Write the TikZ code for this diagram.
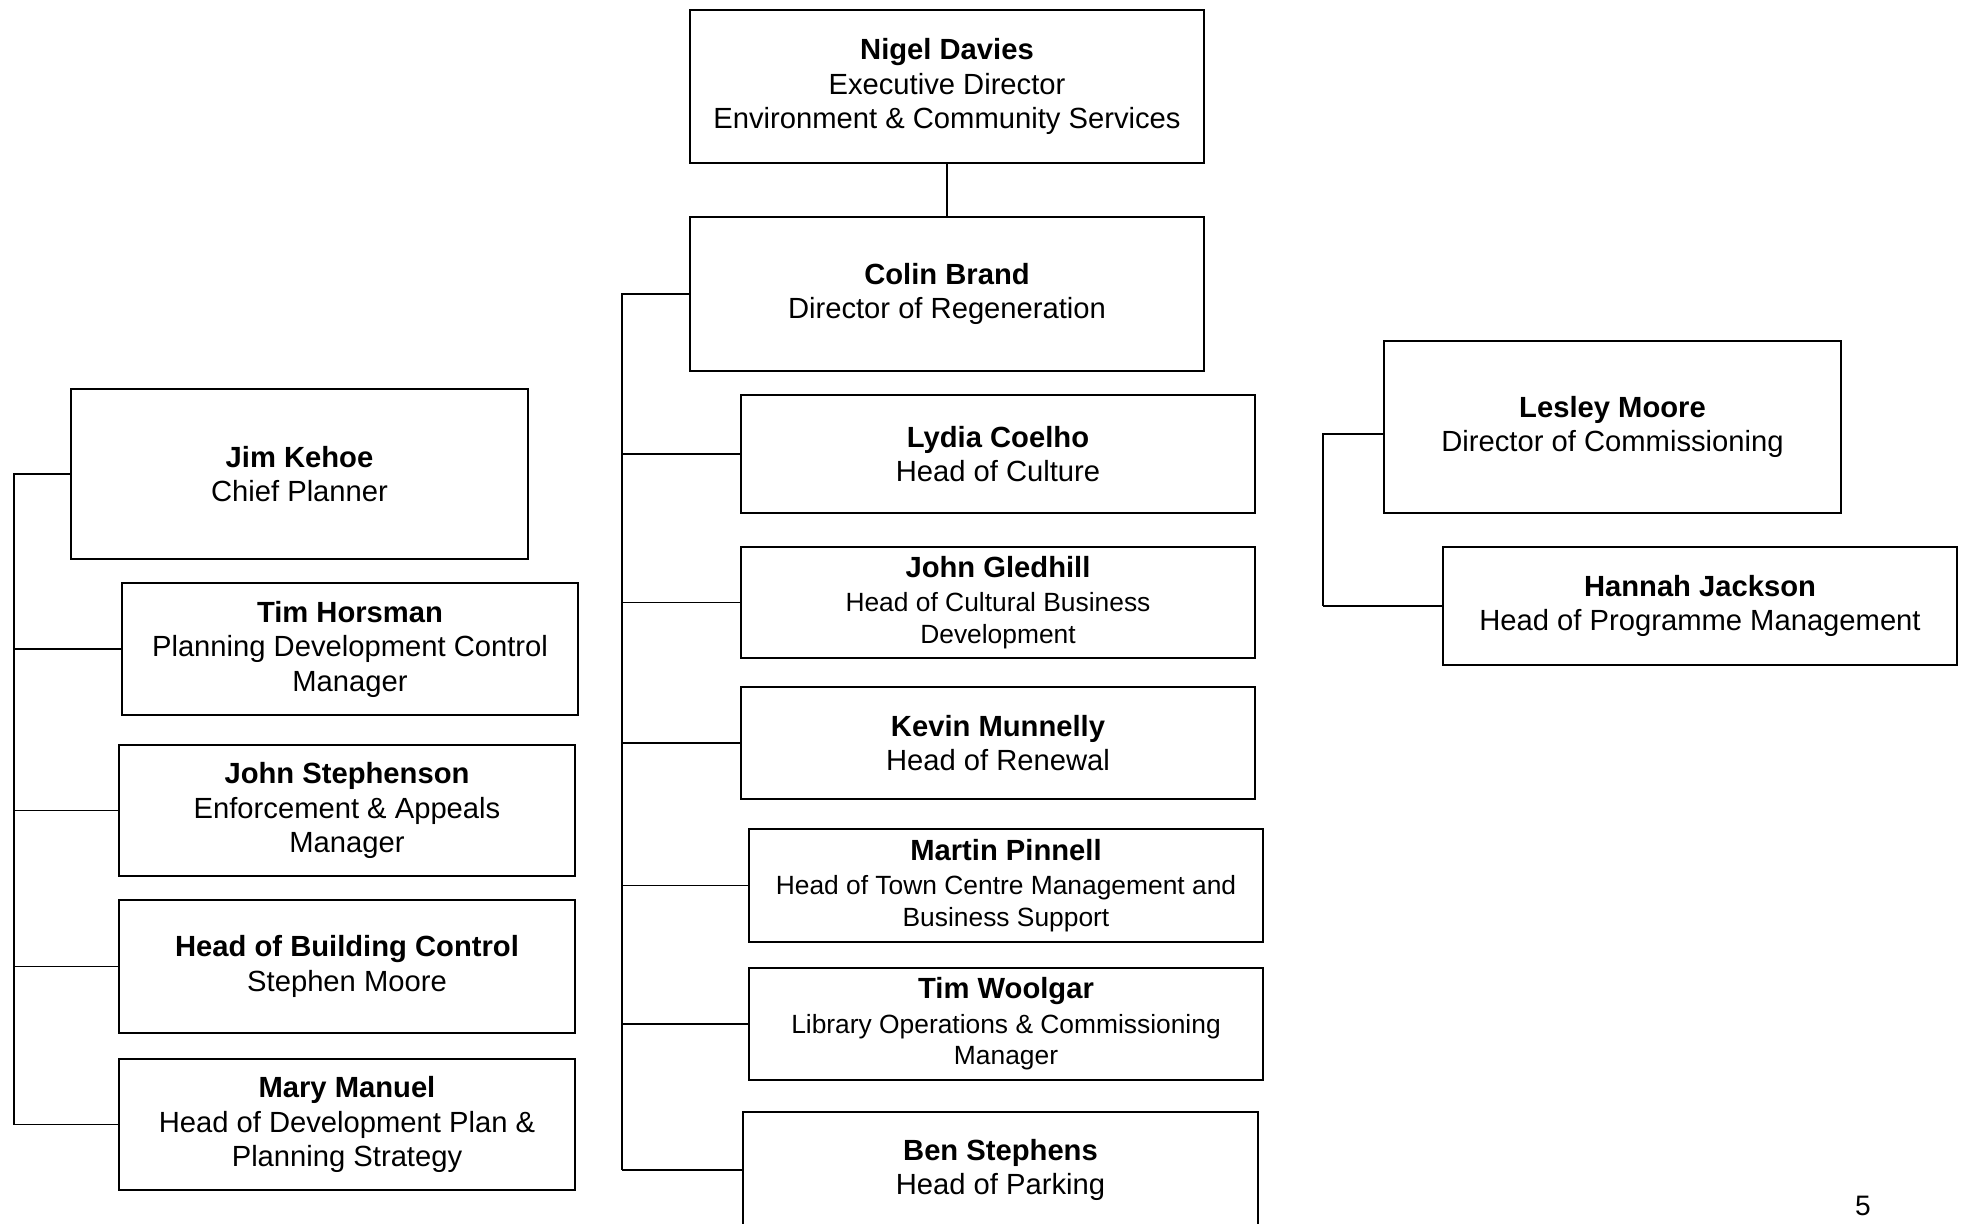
\documentclass[tikz,border=0pt]{standalone}
\usepackage{fontspec}
\setmainfont{Liberation Sans}
\newcommand{\smalltitle}{\fontsize{7.5}{9.8}\selectfont}
\tikzset{
  post/.style={draw, line width=0.7pt, inner sep=0pt, align=center,
    font=\fontsize{8.3}{9.8}\selectfont},
  link/.style={line width=0.5pt}
}
\begin{document}
\begin{tikzpicture}[x=0.01cm, y=-0.01cm]
\useasboundingbox (0, 0) rectangle (1966, 1223);
% Set the box widths
\def\widebox{5.14cm}
\def\narrowbox{4.56cm}

% Directors
\node[post, minimum width=\widebox, minimum height=1.53cm] (davies) at (947, 86.5) {\textbf{Nigel Davies}\\Executive Director\\Environment \& Community Services};
\node[post, minimum width=\widebox, minimum height=1.54cm] (brand) at (947, 294) {\textbf{Colin Brand}\\Director of Regeneration};
\node[post, minimum width=4.57cm, minimum height=1.72cm] (moore) at (1612.5, 427) {\textbf{Lesley Moore}\\Director of Commissioning};
\node[post, minimum width=\widebox, minimum height=1.18cm] (jackson) at (1700, 606) {\textbf{Hannah Jackson}\\Head of Programme Management};

% Planning column
\node[post, minimum width=4.57cm, minimum height=1.70cm] (kehoe) at (299.5, 474) {\textbf{Jim Kehoe}\\Chief Planner};
\node[post, minimum width=\narrowbox, minimum height=1.32cm] (horsman) at (350, 649) {\textbf{Tim Horsman}\\Planning Development Control\\Manager};
\node[post, minimum width=\narrowbox, minimum height=1.31cm] (stephenson) at (347, 810.5) {\textbf{John Stephenson}\\Enforcement \& Appeals\\Manager};
\node[post, minimum width=\narrowbox, minimum height=1.33cm] (building) at (347, 966.5) {\textbf{Head of Building Control}\\Stephen Moore};
\node[post, minimum width=\narrowbox, minimum height=1.31cm] (manuel) at (347, 1124.5) {\textbf{Mary Manuel}\\Head of Development Plan \&\\Planning Strategy};

% Regeneration column
\node[post, minimum width=\widebox, minimum height=1.18cm] (coelho) at (998, 454) {\textbf{Lydia Coelho}\\Head of Culture};
\node[post, minimum width=\widebox, minimum height=1.11cm] (gledhill) at (998, 602.5) {\textbf{John Gledhill}\\\smalltitle Head of Cultural Business\\[-0.8pt]\smalltitle Development};
\node[post, minimum width=\widebox, minimum height=1.12cm] (munnelly) at (998, 743) {\textbf{Kevin Munnelly}\\Head of Renewal};
\node[post, minimum width=\widebox, minimum height=1.13cm] (pinnell) at (1006, 885.5) {\textbf{Martin Pinnell}\\\smalltitle Head of Town Centre Management and\\[-0.8pt]\smalltitle Business Support};
\node[post, minimum width=\widebox, minimum height=1.12cm] (woolgar) at (1006, 1024) {\textbf{Tim Woolgar}\\\smalltitle Library Operations \& Commissioning\\[-0.8pt]\smalltitle Manager};
\node[post, minimum width=5.15cm, minimum height=1.16cm] (stephens) at (1000.5, 1170) {\textbf{Ben Stephens}\\Head of Parking};

\node[font=\fontsize{8}{9.6}\selectfont] (pagenum) at (1863, 1206) {5};

% Bus lines
\coordinate (lbus) at (14, 0);
\coordinate (mbus) at (622, 0);
\coordinate (rbus) at (1323, 0);

% Connectors
\draw[link] (davies) -- (brand);
\draw[link] (brand.west) -| (mbus |- stephens.west);
\draw[link] (coelho.west -| mbus) -- (coelho.west);
\draw[link] (gledhill.west -| mbus) -- (gledhill.west);
\draw[link] (munnelly.west -| mbus) -- (munnelly.west);
\draw[link] (pinnell.west -| mbus) -- (pinnell.west);
\draw[link] (woolgar.west -| mbus) -- (woolgar.west);
\draw[link] (stephens.west -| mbus) -- (stephens.west);
\draw[link] (kehoe.west) -| (lbus |- manuel.west);
\draw[link] (horsman.west -| lbus) -- (horsman.west);
\draw[link] (stephenson.west -| lbus) -- (stephenson.west);
\draw[link] (building.west -| lbus) -- (building.west);
\draw[link] (manuel.west -| lbus) -- (manuel.west);
\draw[link] ([yshift=-2pt]moore.west) -| (rbus |- jackson.west);
\draw[link] (jackson.west -| rbus) -- (jackson.west);
\end{tikzpicture}
\end{document}
